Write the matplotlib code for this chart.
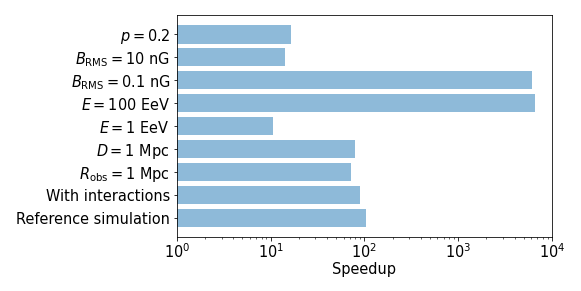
import matplotlib
matplotlib.use('Agg')
import matplotlib.pyplot as plt

labels = ['Reference simulation', 'With interactions', r'$R_{\rm obs} = 1$ Mpc',
          r'$D = 1$ Mpc', r'$E = 1$ EeV', r'$E = 100$ EeV',
          r'$B_{\rm RMS} = 0.1$ nG', r'$B_{\rm RMS} = 10$ nG', r'$p = 0.2$']
speedup = [103, 90, 72, 79, 10.6, 6590, 6120, 14.2, 16.4]

fig = plt.figure(figsize=(581 / 72, 291 / 72), dpi=72)
ax = fig.add_subplot(111)
fig.subplots_adjust(left=0.3046, right=0.950, top=0.948, bottom=0.1856)

ax.barh(range(len(labels)), speedup, color='tab:blue', alpha=0.5)
ax.set_yticks(range(len(labels)))
ax.set_yticklabels(labels, fontsize=14.5)
ax.set_xscale('log')
ax.set_xlim(1, 1e4)
ax.tick_params(axis='x', labelsize=14.5, pad=2)
ax.set_xlabel('Speedup', fontsize=14.5, labelpad=1)

fig.savefig('out.png')
